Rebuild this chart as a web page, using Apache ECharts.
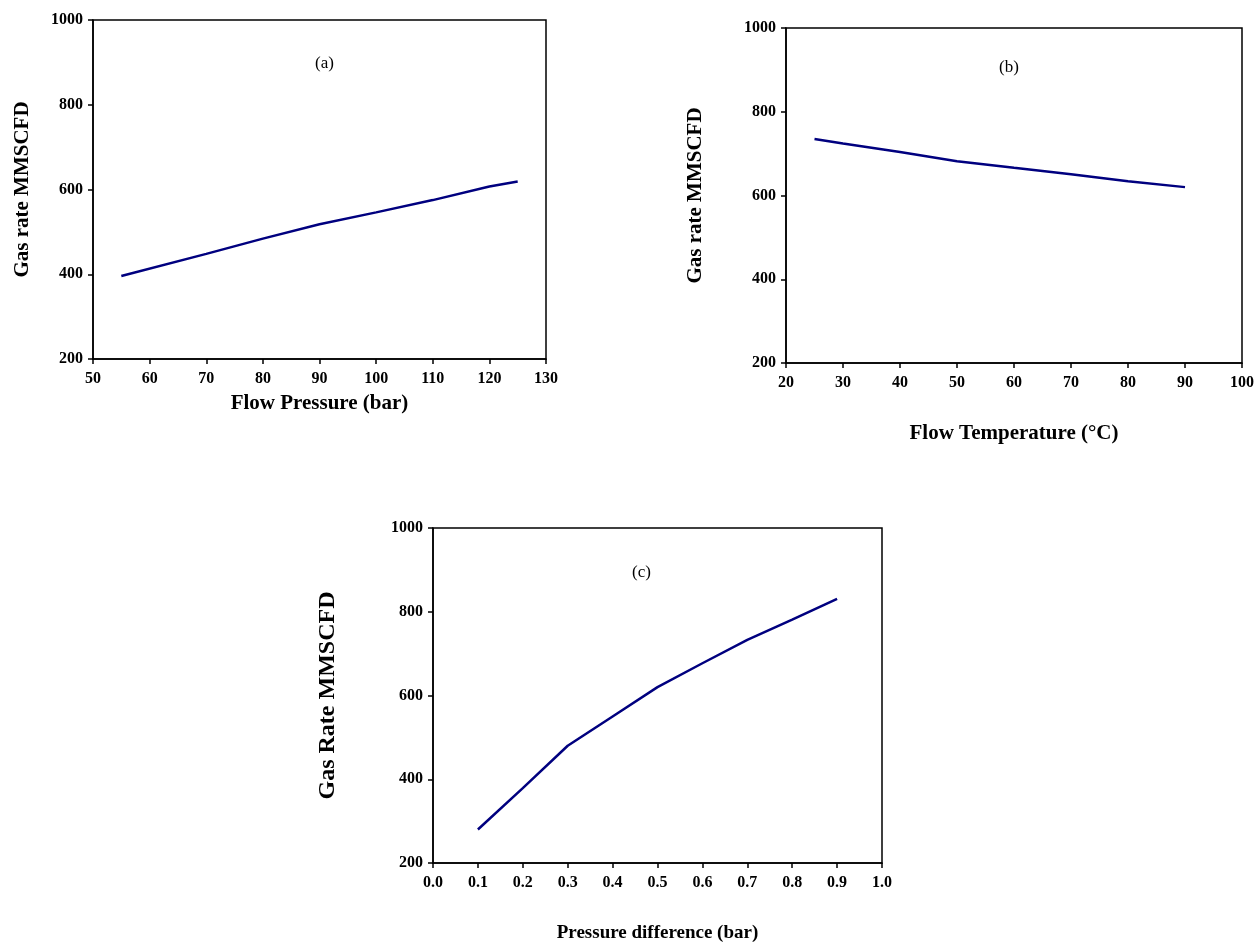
<!DOCTYPE html>
<html>
<head>
<meta charset="utf-8">
<script src="https://cdn.jsdelivr.net/npm/echarts@6/dist/echarts.min.js"></script>
<style>
  html, body { margin: 0; padding: 0; background: #fff; }
  #chart { width: 1258px; height: 945px; }
</style>
</head>
<body>
<div id="chart"></div>
<script>
// (a) gas rate vs flow pressure
const pressureBar = [55, 70, 80, 90, 100, 110, 120, 125]
const rateByPressure = [396, 448, 484, 518, 546, 575, 607, 619]

// (b) gas rate vs flow temperature
const temperatureC = [25, 30, 40, 50, 60, 70, 80, 90]
const rateByTemperature = [735, 724, 704, 682, 666, 651, 634, 620]

// (c) gas rate vs pressure difference
const pressureDiff = [0.1, 0.2, 0.3, 0.4, 0.5, 0.6, 0.7, 0.8, 0.9]
const rateByDiff = [280, 379, 480, 550, 620, 677, 733, 781, 831]

const FONT = "'Liberation Serif', 'Times New Roman', serif"
const LINE_COLOR = '#00007f'

const zip = (xs, ys) => xs.map((x, i) => [x, ys[i]])

const axisBase = {
  type: 'value',
  axisLine: { show: true, lineStyle: { color: '#000', width: 1.5 } },
  axisTick: { show: true, inside: false, length: 5, lineStyle: { color: '#000', width: 1.5 } },
  axisLabel: { color: '#000', fontFamily: FONT, fontWeight: 'bold', fontSize: 16 },
  splitLine: { show: false },
  nameLocation: 'middle',
  nameTextStyle: { color: '#000', fontFamily: FONT, fontWeight: 'bold', fontSize: 20 },
}

function xAx(grid, min, max, interval, name, gap, size, fmt) {
  return Object.assign({}, axisBase, {
    gridIndex: grid, min, max, interval, name, nameGap: gap,
    axisLabel: Object.assign({}, axisBase.axisLabel, { margin: 12, formatter: fmt || (v => String(v)) }),
    nameTextStyle: Object.assign({}, axisBase.nameTextStyle, { fontSize: size }),
  })
}
function yAx(grid, name, gap, size) {
  return Object.assign({}, axisBase, {
    gridIndex: grid, min: 200, max: 1000, interval: 200, name, nameGap: gap, nameRotate: 90,
    axisLabel: Object.assign({}, axisBase.axisLabel, { margin: 10, formatter: v => String(v) }),
    nameTextStyle: Object.assign({}, axisBase.nameTextStyle, { fontSize: size }),
  })
}
function lineSeries(i, data) {
  return {
    type: 'line', xAxisIndex: i, yAxisIndex: i, data,
    showSymbol: false, smooth: false,
    lineStyle: { color: LINE_COLOR, width: 2.5 },
  }
}

const gridStyle = { show: true, borderColor: '#000', borderWidth: 1.5, backgroundColor: 'transparent' }

const option = {
  backgroundColor: '#fff',
  animation: false,
  title: [
    { text: '(a)', left: 310, top: 50 },
    { text: '(b)', left: 994, top: 54 },
    { text: '(c)', left: 627, top: 559 },
  ].map(t => Object.assign(t, {
    textStyle: { fontFamily: FONT, fontWeight: 'normal', fontSize: 17, color: '#000' },
  })),
  grid: [
    Object.assign({ left: 93, top: 20, width: 453, height: 339 }, gridStyle),
    Object.assign({ left: 786, top: 28, width: 456, height: 335 }, gridStyle),
    Object.assign({ left: 433, top: 528, width: 449, height: 335 }, gridStyle),
  ],
  xAxis: [
    xAx(0, 50, 130, 10, 'Flow Pressure (bar)', 34, 21),
    xAx(1, 20, 100, 10, 'Flow Temperature (°C)', 60, 21),
    xAx(2, 0, 1, 0.1, 'Pressure difference (bar)', 61, 19, v => v.toFixed(1)),
  ],
  yAxis: [
    yAx(0, 'Gas rate MMSCFD', 60, 21),
    yAx(1, 'Gas rate MMSCFD', 80, 21),
    yAx(2, 'Gas Rate MMSCFD', 93, 24),
  ],
  series: [
    lineSeries(0, zip(pressureBar, rateByPressure)),
    lineSeries(1, zip(temperatureC, rateByTemperature)),
    lineSeries(2, zip(pressureDiff, rateByDiff)),
  ],
}

const chart = echarts.init(document.getElementById('chart'))
chart.setOption(option)
</script>
</body>
</html>
